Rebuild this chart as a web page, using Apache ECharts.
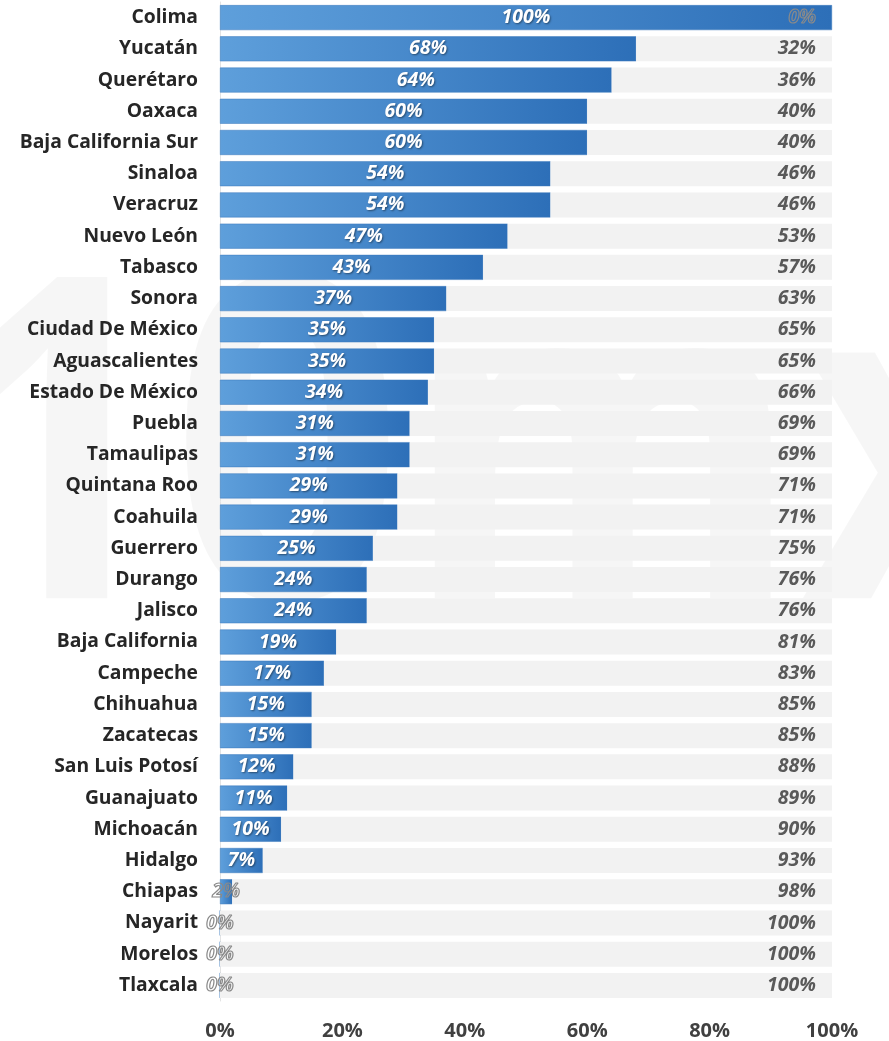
<!DOCTYPE html>
<html>
<head>
<meta charset="utf-8">
<script src="https://cdn.jsdelivr.net/npm/echarts@6/dist/echarts.min.js"></script>
<style>
html,body{margin:0;padding:0;background:#fff;}
#chart{width:889px;height:1041px;}
</style>
</head>
<body>
<div id="chart"></div>
<script>
const categories = ["Colima","Yucatán","Querétaro","Oaxaca","Baja California Sur","Sinaloa","Veracruz","Nuevo León","Tabasco","Sonora","Ciudad De México","Aguascalientes","Estado De México","Puebla","Tamaulipas","Quintana Roo","Coahuila","Guerrero","Durango","Jalisco","Baja California","Campeche","Chihuahua","Zacatecas","San Luis Potosí","Guanajuato","Michoacán","Hidalgo","Chiapas","Nayarit","Morelos","Tlaxcala"];
const blueValues = [100,68,64,60,60,54,54,47,43,37,35,35,34,31,31,29,29,25,24,24,19,17,15,15,12,11,10,7,2,0,0,0];
const grayValues = [0,32,36,40,40,46,46,53,57,63,65,65,66,69,69,71,71,75,76,76,81,83,85,85,88,89,90,93,98,100,100,100];
const xTicks = [0,20,40,60,80,100];

const FONT = '"Open Sans"';
const outlined = {color:'rgba(255,255,255,0)', textBorderColor:'#8a8a8a', textBorderWidth:1.2, textShadowBlur:0, textShadowOffsetX:0, textShadowOffsetY:0};

const chart = echarts.init(document.getElementById('chart'), null, {renderer:'canvas'});
chart.setOption({
  backgroundColor:'#ffffff',
  animation:false,
  graphic:[{
    type:'text', z:-10, silent:true,
    left:-60, top:245, scaleX:0.9,
    style:{text:'10mx', font:'bold 450px "Open Sans"', fill:'rgba(0,0,0,0.035)'}
  }],
  grid:{left:220, right:57, top:2, bottom:40, containLabel:false},
  xAxis:{
    type:'value', min:0, max:100, interval:20,
    axisLine:{show:false}, axisTick:{show:false}, splitLine:{show:false},
    axisLabel:{formatter:v=>v+'%', fontFamily:FONT, fontWeight:'bold', fontSize:20, color:'#404040', margin:20}
  },
  yAxis:{
    type:'category', data:categories, inverse:true,
    axisLine:{show:true, lineStyle:{color:'#e3e3e3', width:1}}, axisTick:{show:false},
    axisLabel:{fontFamily:FONT, fontWeight:'bold', fontSize:19.3, color:'#262626', margin:22}
  },
  series:[{
    type:'bar', stack:'t', barCategoryGap:'20%',
    data: blueValues.map(v=>({
      value:v,
      label: v < 5 ? outlined : {}
    })),
    itemStyle:{
      color:{type:'linear', x:0, y:0, x2:1, y2:0, colorStops:[{offset:0,color:'#5e9fdb'},{offset:1,color:'#2d6fb8'}]},
      borderColor:'#3a78bd', borderWidth:0.5
    },
    label:{
      show:true, position:'inside', formatter:p=>p.value+'%',
      fontFamily:FONT, fontStyle:'italic', fontWeight:'bold', fontSize:19.5, color:'#ffffff',
      textShadowColor:'rgba(0,0,0,0.45)', textShadowBlur:2, textShadowOffsetX:1, textShadowOffsetY:1
    }
  },{
    type:'bar', stack:'t',
    data: grayValues.map(v=>({
      value:v,
      label: v === 0 ? outlined : {}
    })),
    itemStyle:{color:'#f2f2f2'},
    label:{
      show:true, position:'insideRight', distance:16, formatter:p=>p.value+'%',
      fontFamily:FONT, fontStyle:'italic', fontWeight:'bold', fontSize:19.5, color:'#595959'
    }
  }]
});
</script>
</body>
</html>
